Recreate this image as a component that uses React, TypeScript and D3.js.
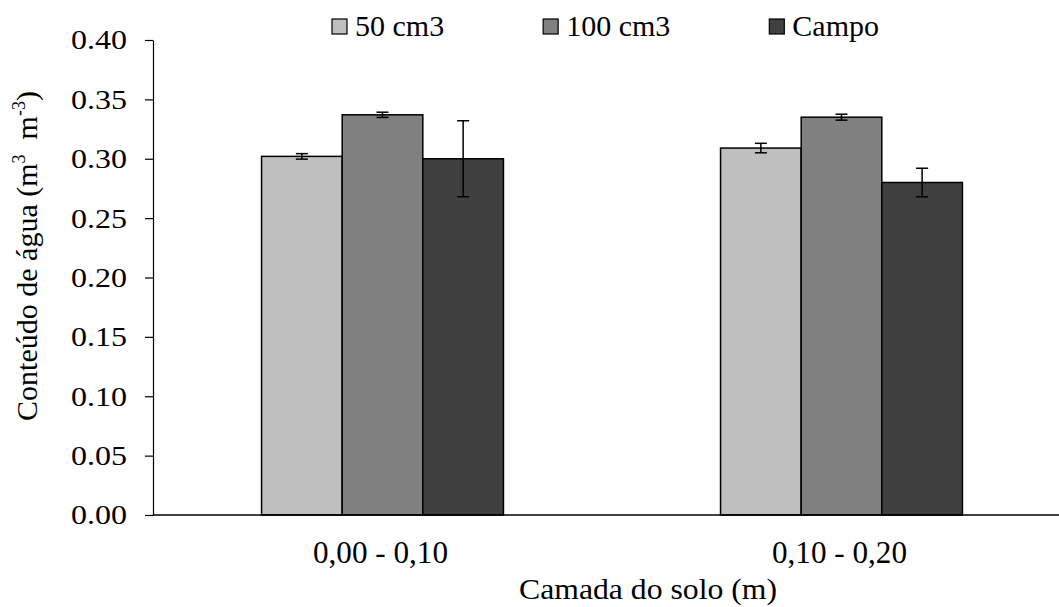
import { useRef, useEffect } from "react";
import * as d3 from "d3";

const categories = ["0,00 - 0,10", "0,10 - 0,20"];
const seriesNames = ["50 cm3", "100 cm3", "Campo"];
const seriesColors = ["#bfbfbf", "#808080", "#404040"];
// values per series, one per category
const values50 = [0.302, 0.309];
const values100 = [0.337, 0.335];
const valuesCampo = [0.3, 0.28];
const errors50 = [0.0023, 0.004];
const errors100 = [0.0022, 0.0025];
const errorsCampo = [0.032, 0.012];
const yTicks = [0, 0.05, 0.1, 0.15, 0.2, 0.25, 0.3, 0.35, 0.4];

const W = 1059;
const H = 607;
const FONT = "Liberation Serif, Tinos, Times New Roman, Times, DejaVu Serif, serif";

const App = () => {
  const svgRef = useRef<SVGSVGElement>(null);

  useEffect(() => {
    const svg = d3.select(svgRef.current);
    svg.selectAll("*").remove();

    const left = 153;
    const top = 40;
    const bottom = 515;
    const right = 1071;

    const allValues = [values50, values100, valuesCampo];
    const allErrors = [errors50, errors100, errorsCampo];

    const x = d3
      .scaleBand()
      .domain(categories)
      .range([left, right])
      .paddingInner(0.473)
      .paddingOuter(0.2365);

    const xs = d3.scaleBand().domain(seriesNames).range([0, x.bandwidth()]);

    const y = d3.scaleLinear().domain([0, 0.4]).range([bottom, top]);

    // bars
    seriesNames.forEach((s, si) => {
      const g = svg.append("g");
      g.selectAll("rect")
        .data(categories)
        .enter()
        .append("rect")
        .attr("x", (c) => x(c)! + xs(s)!)
        .attr("y", (c, i) => y(allValues[si][i]))
        .attr("width", xs.bandwidth())
        .attr("height", (c, i) => bottom - y(allValues[si][i]))
        .attr("fill", seriesColors[si])
        .attr("stroke", "#000")
        .attr("stroke-width", 1.5);
    });

    // error bars
    seriesNames.forEach((s, si) => {
      categories.forEach((c, i) => {
        const cx = x(c)! + xs(s)! + xs.bandwidth() / 2;
        const v = allValues[si][i];
        const e = allErrors[si][i];
        const g = svg.append("g").attr("stroke", "#000").attr("stroke-width", 1.5);
        g.append("line")
          .attr("x1", cx)
          .attr("x2", cx)
          .attr("y1", y(v + e))
          .attr("y2", y(v - e));
        [v + e, v - e].forEach((vv) => {
          g.append("line")
            .attr("x1", cx - 6)
            .attr("x2", cx + 6)
            .attr("y1", y(vv))
            .attr("y2", y(vv));
        });
      });
    });

    // y axis
    const yAxis = svg
      .append("g")
      .attr("transform", `translate(${left},0)`)
      .call(
        d3
          .axisLeft(y)
          .tickValues(yTicks)
          .tickFormat(d3.format(".2f"))
          .tickSize(8)
          .tickSizeOuter(0)
          .tickPadding(18)
      );
    yAxis.attr("font-family", null).attr("font-size", null);
    yAxis.select(".domain").attr("stroke", "#000").attr("stroke-width", 1.2);
    yAxis.selectAll(".tick line").attr("stroke", "#000").attr("stroke-width", 1.2);
    yAxis
      .selectAll(".tick text")
      .style("font-family", FONT)
      .style("font-size", "28px")
      .attr("textLength", 56)
      .attr("lengthAdjust", "spacingAndGlyphs")
      .attr("fill", "#000");

    // x axis line
    svg
      .append("line")
      .attr("x1", left)
      .attr("x2", right)
      .attr("y1", bottom)
      .attr("y2", bottom)
      .attr("stroke", "#000")
      .attr("stroke-width", 1.5);

    svg
      .append("g")
      .selectAll("text")
      .data(categories)
      .enter()
      .append("text")
      .attr("x", (c) => x(c)! + x.bandwidth() / 2 - 2)
      .attr("y", 563)
      .attr("text-anchor", "middle")
      .attr("textLength", 135)
      .attr("lengthAdjust", "spacingAndGlyphs")
      .style("font-family", FONT)
      .style("font-size", "32px")
      .text((c) => c);

    svg
      .append("text")
      .attr("x", 648)
      .attr("y", 599)
      .attr("text-anchor", "middle")
      .attr("textLength", 258)
      .attr("lengthAdjust", "spacingAndGlyphs")
      .style("font-family", FONT)
      .style("font-size", "30px")
      .text("Camada do solo (m)");

    // y title
    const yt = svg
      .append("text")
      .attr("transform", `translate(37,256) rotate(-90)`)
      .attr("text-anchor", "middle")
      .style("font-family", FONT)
      .style("font-size", "30px");
    yt.append("tspan").text("Conteúdo de água (m");
    yt.append("tspan").style("font-size", "18px").attr("dy", -12).text("3");
    yt.append("tspan").attr("dy", 12).text("\u00a0\u00a0m");
    yt.append("tspan").style("font-size", "18px").attr("dy", -12).text("-3");
    yt.append("tspan").attr("dy", 12).text(")");

    // legend
    let lx = 332;
    seriesNames.forEach((s, si) => {
      svg
        .append("rect")
        .attr("x", lx)
        .attr("y", 19)
        .attr("width", 15)
        .attr("height", 15)
        .attr("fill", seriesColors[si])
        .attr("stroke", "#000")
        .attr("stroke-width", 1.2);
      const t = svg
        .append("text")
        .attr("x", lx + 23)
        .attr("y", 36)
        .style("font-family", FONT)
        .style("font-size", "30px")
        .text(s);
      const tw = (t.node() as SVGTextElement).getComputedTextLength();
      lx = lx + 23 + tw + 99;
    });
  }, []);

  return (
    <svg
      ref={svgRef}
      width={W}
      height={H}
      style={{ position: "absolute", left: 0, top: 0, background: "#fff" }}
    ></svg>
  );
};

export default App;
